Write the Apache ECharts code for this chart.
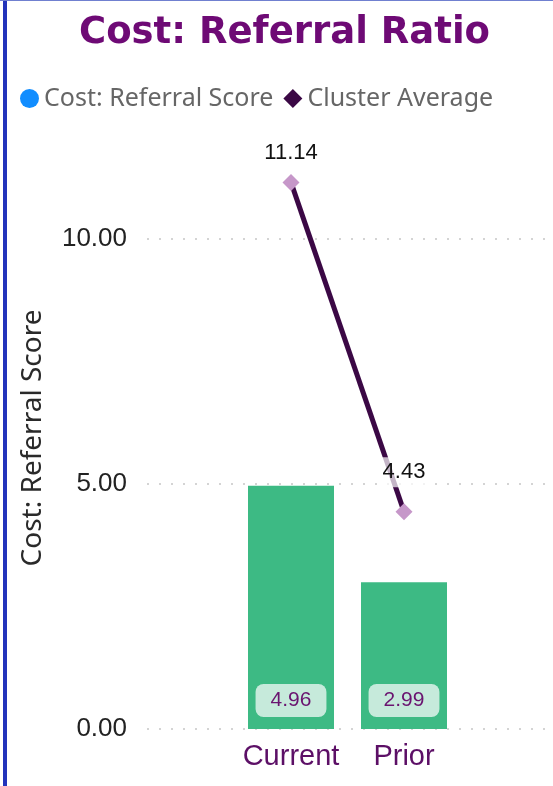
<!DOCTYPE html>
<html><head><meta charset="utf-8">
<script src="https://cdn.jsdelivr.net/npm/echarts@6/dist/echarts.min.js"></script>
<style>html,body{margin:0;padding:0;background:#fff}#c{width:553px;height:786px}</style>
</head><body><div id="c"></div>
<script>
const categories = ['Current', 'Prior'];
const scoreValues = [4.96, 2.99];
const clusterAverage = [11.14, 4.43];
const yTicks = [0, 5, 10];
const titleText = 'Cost: Referral Ratio';
const scoreName = 'Cost: Referral Score';
const clusterName = 'Cluster Average';

const chart = echarts.init(document.getElementById('c'));
const yMin = yTicks[0], yStep = yTicks[1] - yTicks[0], yMax = 15;
const gridTop = -7, gridBottom = 57;
chart.setOption({
  animation: false,
  title: {
    text: titleText, left: 74, top: 10,
    textStyle: {fontFamily: 'DejaVu Sans', fontWeight: 'bold', fontSize: 37, color: '#6e0a75'}
  },
  legend: {
    left: 15, top: 81, itemWidth: 19, itemHeight: 19, itemGap: 10,
    textStyle: {fontFamily: 'Noto Sans', fontSize: 25, color: '#666'},
    data: [
      {name: scoreName, icon: 'circle', itemStyle: {color: '#118dff'}},
      {name: clusterName, icon: 'diamond', itemStyle: {color: '#3b0845'}}
    ]
  },
  graphic: [
    {type: 'rect', shape: {x: 3, y: 0, width: 4, height: 786}, style: {fill: '#2233bb'}},
    {type: 'rect', shape: {x: 0, y: 0, width: 553, height: 1}, style: {fill: '#7080d0'}},
    {type: 'text', x: 33, y: 438, rotation: Math.PI / 2,
      style: {text: scoreName, fontFamily: 'Noto Sans', fontSize: 28, fill: '#2a2a2a', align: 'center', verticalAlign: 'middle'}}
  ],
  grid: [
    {left: 147, right: 5, top: gridTop, bottom: gridBottom, outerBoundsMode: 'none', containLabel: false},
    {left: 234.5, right: 92.5, top: gridTop, bottom: gridBottom, outerBoundsMode: 'none', containLabel: false}
  ],
  xAxis: [
    {gridIndex: 0, type: 'value', min: 0, max: 1, show: false},
    {gridIndex: 1, type: 'category', data: categories,
      axisLine: {show: false}, axisTick: {show: false},
      axisLabel: {interval: 0, margin: 13, fontFamily: 'Liberation Sans', fontSize: 29, color: '#5c0f66'}}
  ],
  yAxis: [
    {gridIndex: 0, type: 'value', min: yMin, max: yMax, interval: yStep,
      axisLine: {show: false}, axisTick: {show: false},
      axisLabel: {margin: 20, showMaxLabel: false, fontFamily: 'Liberation Sans', fontSize: 26, color: '#222',
        formatter: v => v.toFixed(2)},
      splitLine: {lineStyle: {type: [2, 10], width: 2, color: '#d4d4d4'}}},
    {gridIndex: 1, type: 'value', min: yMin, max: yMax, interval: yStep, show: false,
      splitLine: {show: false}}
  ],
  series: [
    {name: scoreName, type: 'bar', xAxisIndex: 1, yAxisIndex: 1, data: scoreValues,
      barWidth: 86, itemStyle: {color: '#3dba84'},
      label: {show: true, position: 'insideBottom', distance: 12,
        formatter: p => p.value.toFixed(2),
        fontFamily: 'Liberation Sans', fontSize: 21, color: '#6a1470',
        backgroundColor: '#c6eadb', borderRadius: 8, padding: [6, 15]}},
    {name: clusterName, type: 'line', xAxisIndex: 1, yAxisIndex: 1,
      data: clusterAverage.map((v, i) => ({value: v, label: {distance: i === 0 ? 6 : 16}})),
      lineStyle: {color: '#3b0845', width: 5},
      symbol: 'diamond', symbolSize: 17, itemStyle: {color: '#c697c9'},
      label: {show: true, position: 'top', formatter: p => p.value.toFixed(2),
        fontFamily: 'Liberation Sans', fontSize: 22, color: '#111',
        backgroundColor: 'rgba(255,255,255,0.7)', padding: [4, 2]}}
  ]
});
</script></body></html>
